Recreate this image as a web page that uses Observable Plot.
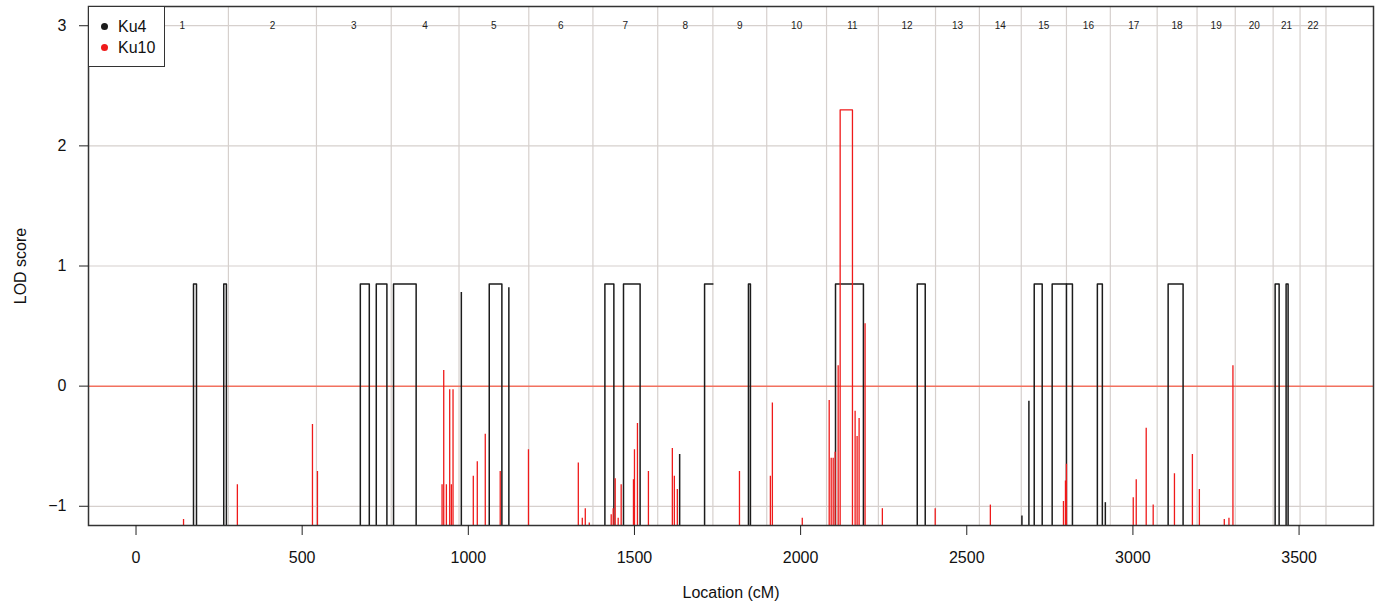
<!DOCTYPE html>
<html><head><meta charset="utf-8">
<script src="https://cdn.jsdelivr.net/npm/d3@7"></script>
<script src="https://cdn.jsdelivr.net/npm/@observablehq/plot@0.6"></script>
<style>
body{margin:0;background:#fff;font-family:"Liberation Sans",Arial,Helvetica,sans-serif;}
#wrap{position:relative;width:1381px;height:608px;overflow:hidden;}
#legend{position:absolute;left:88px;top:6px;width:77px;height:61px;border:1.5px solid #333;background:#fff;box-sizing:border-box;}
.lg{position:absolute;left:29px;font-size:16px;color:#111;line-height:16px;}
.dot{position:absolute;left:12px;width:7px;height:7px;border-radius:50%;}
</style></head>
<body><div id="wrap"></div>
<script>
// ---- data ----
const chromosomes = ["1","2","3","4","5","6","7","8","9","10","11","12","13","14","15","16","17","18","19","20","21","22"];
const chromEnd = [278, 543, 768, 972, 1182, 1375, 1570, 1736, 1898, 2078, 2234, 2406, 2538, 2664, 2800, 2932, 3073, 3193, 3308, 3422, 3503, 3581];
const xTicks = [0, 500, 1000, 1500, 2000, 2500, 3000, 3500];
const yTicks = [-1, 0, 1, 2, 3];
const OFF = -3; // LOD far below the visible range (clipped at frame)

// Ku4: plateaus (start cM, end cM, LOD) and single-marker spikes
const ku4PlateauStart = [173, 264, 675, 723, 775, 1063, 1411, 1467, 1711, 1843, 2105, 2351, 2703, 2757, 2800, 2893, 3106, 3428, 3461];
const ku4PlateauEnd   = [182, 272, 702, 755, 843, 1101, 1438, 1517, 1736, 1849, 2189, 2375, 2727, 2800, 2818, 2908, 3151, 3440, 3467];
const ku4PlateauLod   = [0.85, 0.85, 0.85, 0.85, 0.85, 0.85, 0.85, 0.85, 0.85, 0.85, 0.85, 0.85, 0.85, 0.85, 0.85, 0.85, 0.85, 0.85, 0.85];
const ku4SpikePos = [979, 1122, 1636, 2666, 2687, 2917];
const ku4SpikeLod = [0.78, 0.82, -0.57, -1.08, -0.125, -0.97];

// Ku10: spikes and one plateau
const ku10SpikePos = [143, 305, 531, 546, 921, 926, 934, 944, 949, 954, 1015, 1027, 1051, 1096, 1181,
  1331, 1343, 1352, 1364, 1430, 1436, 1442, 1451, 1460, 1497, 1500, 1509, 1542, 1614, 1620, 1629,
  1816, 1909, 1915, 2005, 2086, 2092, 2098, 2104, 2113, 2164, 2170, 2176, 2194, 2246, 2405, 2571,
  2791, 2797, 2800, 3001, 3010, 3040, 3061, 3125, 3179, 3200, 3275, 3289, 3301];
const ku10SpikeLod = [-1.11, -0.82, -0.32, -0.71, -0.82, 0.13, -0.82, -0.03, -0.82, -0.03, -0.75, -0.63, -0.40, -0.71, -0.53,
  -0.64, -1.10, -1.02, -1.14, -1.07, -1.02, -0.77, -1.10, -0.82, -0.78, -0.53, -0.31, -0.71, -0.52, -0.75, -0.86,
  -0.71, -0.75, -0.14, -1.10, -0.12, -0.60, -0.60, -0.55, 0.17, -0.21, -0.42, -0.27, 0.52, -1.02, -1.02, -0.99,
  -0.96, -0.79, -0.65, -0.93, -0.78, -0.35, -0.99, -0.73, -0.57, -0.86, -1.11, -1.10, 0.17];
const ku10PlateauStart = [2119];
const ku10PlateauEnd = [2156];
const ku10PlateauLod = [2.30];

// ---- build tables ----
const chromTable = chromosomes.map((c, i) => ({name: c, mid: ((i ? chromEnd[i - 1] : 0) + chromEnd[i]) / 2}));
function plateauPath(starts, ends, lods) {
  const out = [];
  starts.forEach((s, i) => {
    const e = ends[i], h = lods[i];
    out.push({id: i, x: s, y: OFF}, {id: i, x: s, y: h}, {id: i, x: e, y: h});
    if (!chromEnd.includes(e)) out.push({id: i, x: e, y: OFF});
  });
  return out;
}
const ku4Path = plateauPath(ku4PlateauStart, ku4PlateauEnd, ku4PlateauLod);
const ku10Path = plateauPath(ku10PlateauStart, ku10PlateauEnd, ku10PlateauLod);
const ku4Spikes = ku4SpikePos.map((x, i) => ({x, y: ku4SpikeLod[i]}));
const ku10Spikes = ku10SpikePos.map((x, i) => ({x, y: ku10SpikeLod[i]}));

const BLACK = "#1c1c1c", RED = "#ef1a1a", GRID = "#d6d0cd";
const font = "Liberation Sans, Arial, Helvetica, sans-serif";

const chart = Plot.plot({
  width: 1381, height: 608,
  marginLeft: 88, marginRight: 8, marginTop: 6, marginBottom: 83,
  style: {fontFamily: font, color: "#111", background: "#fff"},
  x: {domain: [-143, 3724]},
  y: {domain: [-1.16, 3.16]},
  marks: [
    Plot.ruleX(chromEnd, {stroke: GRID, strokeWidth: 1.2}),
    Plot.ruleY(yTicks.filter(d => d !== 0), {stroke: GRID, strokeWidth: 1.2}),
    Plot.ruleY([0], {stroke: "#f2715f", strokeWidth: 1.5}),
    Plot.text(chromTable, {x: "mid", y: 3, text: "name", fontSize: 10, fill: "#222"}),
    Plot.line(ku4Path, {x: "x", y: "y", z: "id", stroke: BLACK, strokeWidth: 1.5, clip: true}),
    Plot.ruleX(ku4Spikes, {x: "x", y1: OFF, y2: "y", stroke: BLACK, strokeWidth: 1.5, clip: true}),
    Plot.ruleX(ku10Spikes, {x: "x", y1: OFF, y2: "y", stroke: RED, strokeWidth: 1.3, clip: true}),
    Plot.line(ku10Path, {x: "x", y: "y", z: "id", stroke: RED, strokeWidth: 1.3, clip: true}),
    Plot.frame({stroke: "#333", strokeWidth: 1.5}),
    Plot.axisX({ticks: xTicks, tickSize: 10, tickPadding: 16, fontSize: 16, label: null, stroke: "#222",
      tickFormat: d => String(d)}),
    Plot.axisY({ticks: yTicks, tickSize: 9, tickPadding: 13, fontSize: 16, label: null, stroke: "#222",
      tickFormat: d => d < 0 ? "\u2212" + Math.abs(d) : String(d)}),
    Plot.text(["LOD score"], {frameAnchor: "left", dx: -68, rotate: -90, text: d => d, fontSize: 16, fill: "#111",
      textAnchor: "middle", lineAnchor: "middle"}),
    Plot.text(["Location (cM)"], {frameAnchor: "bottom", dy: 67, text: d => d, fontSize: 16, fill: "#111",
      textAnchor: "middle", lineAnchor: "middle"})
  ]
});
const wrap = document.getElementById("wrap");
wrap.appendChild(chart);
const legend = document.createElement("div");
legend.id = "legend";
legend.innerHTML = `<span class="dot" style="top:16px;background:${BLACK}"></span><span class="lg" style="top:12px">Ku4</span>
<span class="dot" style="top:37px;background:${RED}"></span><span class="lg" style="top:33px">Ku10</span>`;
wrap.appendChild(legend);
</script>
</body></html>
